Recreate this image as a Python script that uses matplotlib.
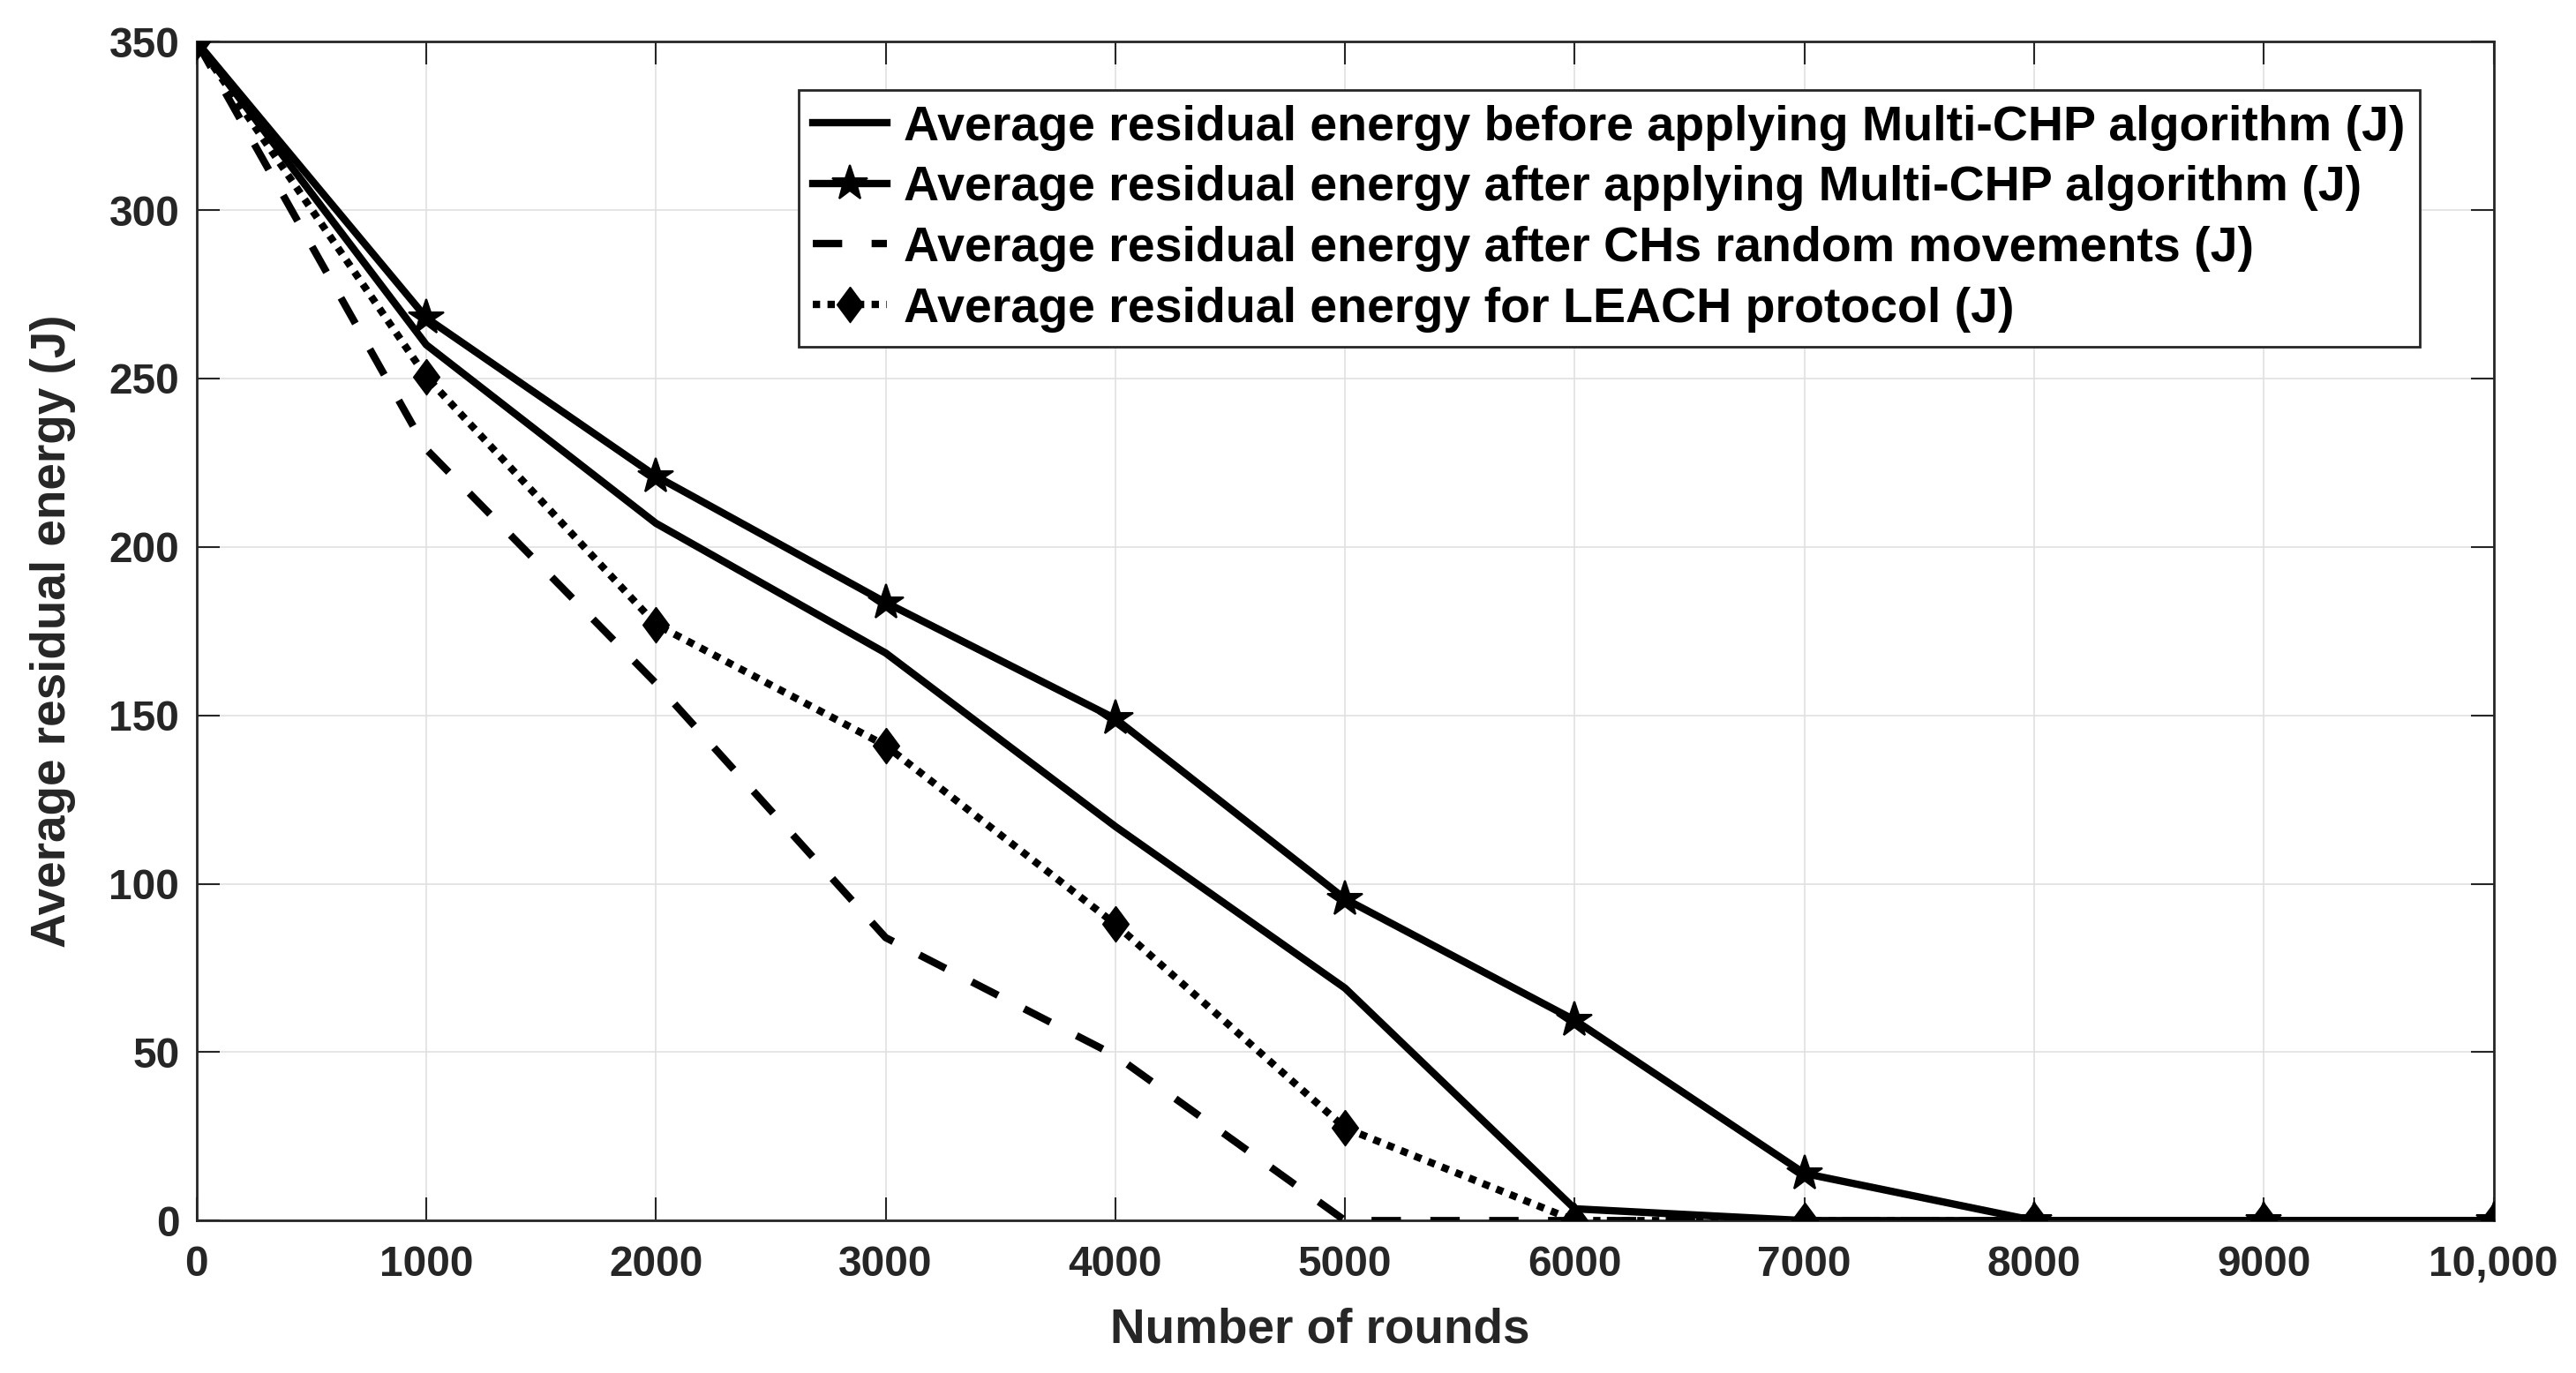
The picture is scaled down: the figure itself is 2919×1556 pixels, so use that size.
import matplotlib
matplotlib.use("Agg")
import matplotlib.pyplot as plt
from matplotlib.ticker import FixedLocator

plt.rcParams['font.family'] = ['Liberation Sans', 'DejaVu Sans']
plt.rcParams['font.weight'] = 'bold'

# ---- data ----
rounds = [0, 1000, 2000, 3000, 4000, 5000, 6000, 7000, 8000, 9000, 10000]
before_chp = [350, 260, 207, 168.5, 117, 69, 3.5, 0, 0, 0, 0]
after_chp = [350, 268, 221, 183.5, 149, 95.5, 59.5, 14, 0, 0, 0]
random_moves = [350, 229, 159.5, 84, 49, 0, 0, 0, 0, 0, 0]
leach = [350, 250.5, 177, 141, 88, 27.5, 0, 0, 0, 0, 0]

labels = [
    "Average residual energy before applying Multi-CHP algorithm (J)",
    "Average residual energy after applying Multi-CHP algorithm (J)",
    "Average residual energy after CHs random movements (J)",
    "Average residual energy for LEACH protocol (J)",
]
xtick_vals = [0, 1000, 2000, 3000, 4000, 5000, 6000, 7000, 8000, 9000, 10000]
xtick_labels = ["0", "1000", "2000", "3000", "4000", "5000", "6000", "7000",
                "8000", "9000", "10,000"]
ytick_vals = [0, 50, 100, 150, 200, 250, 300, 350]

# ---- figure ----
fig = plt.figure(figsize=(29.19, 15.56), dpi=100)
ax = fig.add_axes([0.0763, 0.111, 0.8917, 0.8587])

lw = 6
dark = '#262626'
diamond = [(0, 1), (0.74, 0), (0, -1), (-0.74, 0), (0, 1)]

l1, = ax.plot(rounds, before_chp, color='black', lw=lw, ls='-', zorder=4,
              label=labels[0])
l2, = ax.plot(rounds, after_chp, color='black', lw=lw, ls='-', marker='*',
              ms=30, mew=1.5, zorder=5, label=labels[1])
l3, = ax.plot(rounds, random_moves, color='black', lw=lw, ls=(0, (4, 4)),
              dash_capstyle='butt', zorder=3, label=labels[2])
l4, = ax.plot(rounds, leach, color='black', lw=lw, ls=(0, (1, 1)),
              dash_capstyle='butt', marker=diamond, ms=29, mew=1, zorder=3.5,
              label=labels[3])

ax.set_xlim(0, 10000)
ax.set_ylim(0, 350)
ax.xaxis.set_major_locator(FixedLocator(xtick_vals))
ax.set_xticklabels(xtick_labels)
ax.yaxis.set_major_locator(FixedLocator(ytick_vals))

ax.grid(True, color='#e0e0e0', lw=1.2, zorder=0)
ax.set_axisbelow(True)

for s in ax.spines.values():
    s.set_color(dark)
    s.set_linewidth(2)

ax.tick_params(axis='both', which='major', direction='in', length=19,
               width=1.5, color=dark, labelcolor=dark, labelsize=34.5,
               top=True, right=True)
ax.tick_params(axis='x', pad=20)
ax.tick_params(axis='y', pad=14)

ax.set_xlabel("Number of rounds", fontsize=39.5, fontweight='bold',
              color=dark, labelpad=18, x=0.489)
ax.set_ylabel("Average residual energy (J)", fontsize=39.5, fontweight='bold',
              color=dark, labelpad=27)

leg = ax.legend(handles=[l1, l2, l3, l4], loc='upper right',
                bbox_to_anchor=(0.968, 0.959), borderaxespad=0,
                fontsize=40, frameon=True, fancybox=False, framealpha=1,
                edgecolor=dark, handlelength=1.5, handletextpad=0.35,
                labelspacing=0.3, borderpad=0.3, numpoints=1)
leg.get_frame().set_linewidth(2)
for t in leg.get_texts():
    t.set_fontweight('bold')
    t.set_color('black')

fig.savefig("out.png", dpi=100, facecolor='white')
